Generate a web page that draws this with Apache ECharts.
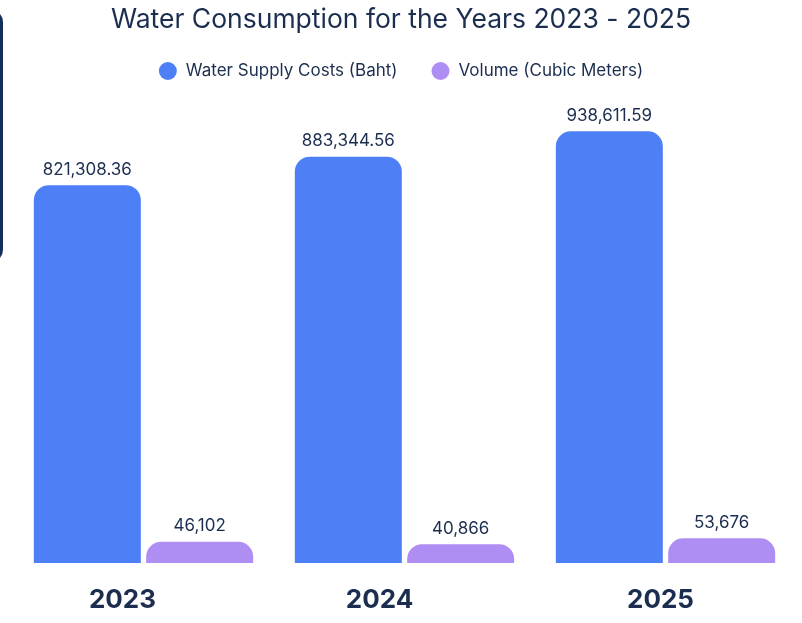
<!DOCTYPE html>
<html>
<head>
<meta charset="utf-8">
<script src="https://cdn.jsdelivr.net/npm/echarts@6/dist/echarts.min.js"></script>
<style>
  html, body { margin: 0; padding: 0; background: #fff; }
  #main { width: 802px; height: 623px; }
</style>
</head>
<body>
<div id="main"></div>
<script>
// data
var years = ["2023", "2024", "2025"];
var costBaht = [821308.36, 883344.56, 938611.59];
var volumeM3 = [46102, 40866, 53676];
var seriesNames = ["Water Supply Costs (Baht)", "Volume (Cubic Meters)"];

var textColor = "#1c2e50";
var fontName = "Inter, 'Noto Sans', sans-serif";

var myChart = echarts.init(document.getElementById("main"));

var option = {
  backgroundColor: "#fff",
  textStyle: { fontFamily: fontName },
  title: {
    text: "Water Consumption for the Years 2023 - 2025",
    left: "center",
    top: 2,
    textStyle: { fontSize: 26.5, fontWeight: "normal", color: textColor, fontFamily: fontName }
  },
  legend: {
    data: seriesNames,
    top: 57,
    left: "center",
    icon: "circle",
    itemWidth: 18,
    itemHeight: 18,
    itemGap: 34,
    textStyle: { fontSize: 17, color: textColor, padding: [0, 0, 0, 4], fontFamily: fontName }
  },
  // partial dark panel on the left edge
  graphic: [
    {
      type: "rect",
      left: -300,
      top: 10,
      shape: { width: 303, height: 252, r: 12 },
      style: { fill: "#14305a" },
      silent: true
    }
  ],
  grid: { left: 13, right: 6, top: 103, bottom: 60 },
  xAxis: {
    type: "category",
    data: years,
    axisLine: { show: false },
    axisTick: { show: false },
    axisLabel: {
      margin: 24,
      formatter: function (v, i) {
        return "{y" + i + "|" + v + "}";
      },
      rich: {
        y0: { fontSize: 26, fontWeight: "bold", color: textColor, fontFamily: fontName, padding: [0, 42, 0, 0] },
        y1: { fontSize: 26, fontWeight: "bold", color: textColor, fontFamily: fontName, padding: [0, 50, 0, 0] },
        y2: { fontSize: 26, fontWeight: "bold", color: textColor, fontFamily: fontName, padding: [0, 10, 0, 0] }
      }
    }
  },
  yAxis: {
    type: "value",
    min: 0,
    max: 1000000,
    show: false,
    splitLine: { show: false }
  },
  series: [
    {
      name: seriesNames[0],
      type: "bar",
      data: costBaht,
      barWidth: 107,
      barGap: "5%",
      itemStyle: { color: "#4d80f6", borderRadius: [15, 15, 0, 0] },
      label: {
        show: true,
        position: "top",
        distance: 7,
        fontSize: 17,
        color: textColor,
        fontFamily: fontName,
        formatter: function (p) {
          return p.value.toLocaleString("en-US", { minimumFractionDigits: 2, maximumFractionDigits: 2 });
        }
      }
    },
    {
      name: seriesNames[1],
      type: "bar",
      data: volumeM3,
      barWidth: 107,
      itemStyle: { color: "#af8ef3", borderRadius: [15, 15, 0, 0] },
      label: {
        show: true,
        position: "top",
        distance: 7,
        fontSize: 17,
        color: textColor,
        fontFamily: fontName,
        formatter: function (p) {
          return p.value.toLocaleString("en-US");
        }
      }
    }
  ]
};

myChart.setOption(option);
</script>
</body>
</html>
